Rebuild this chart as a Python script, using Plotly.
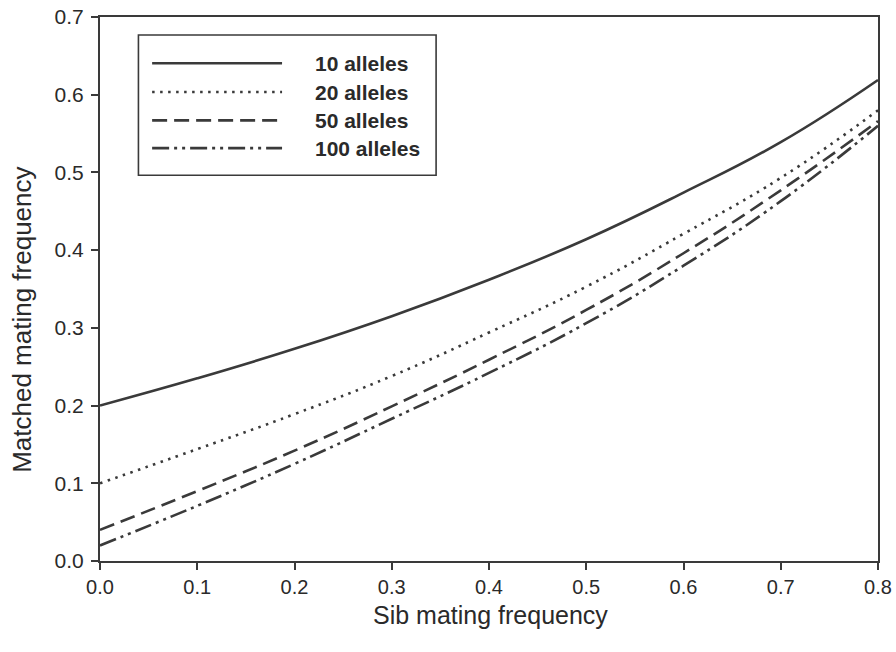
import plotly.graph_objects as go

sib_freq = [0.0, 0.1, 0.2, 0.3, 0.4, 0.5, 0.6, 0.7, 0.8]
alleles_10 = [0.200, 0.235, 0.273, 0.315, 0.362, 0.414, 0.474, 0.539, 0.619]
alleles_20 = [0.100, 0.144, 0.189, 0.238, 0.294, 0.353, 0.421, 0.493, 0.580]
alleles_50 = [0.040, 0.090, 0.142, 0.199, 0.259, 0.323, 0.396, 0.477, 0.566]
alleles_100 = [0.020, 0.071, 0.125, 0.183, 0.242, 0.306, 0.380, 0.463, 0.560]

series_names = ["10 alleles", "20 alleles", "50 alleles", "100 alleles"]
series_values = [alleles_10, alleles_20, alleles_50, alleles_100]
dashes = ["solid", "2.5px,5.5px", "15px,7px", "17px,5px,3px,5px,3px,5px"]

x_ticks = [0.0, 0.1, 0.2, 0.3, 0.4, 0.5, 0.6, 0.7, 0.8]
y_ticks = [0.0, 0.1, 0.2, 0.3, 0.4, 0.5, 0.6, 0.7]

line_color = "#3a3a3a"
text_color = "#2a2a2a"
font_family = "Liberation Sans, Arial, Helvetica, sans-serif"

fig = go.Figure()
for name, vals, dash in zip(series_names, series_values, dashes):
    fig.add_trace(go.Scatter(
        x=sib_freq, y=vals, mode="lines", name=name,
        line=dict(color=line_color, width=2.6, dash=dash, shape="spline", smoothing=1.3),
        showlegend=False,
    ))

# Manual legend (box, sample lines, labels) in paper coordinates
lx0, lx1, ly0, ly1 = 0.0494, 0.432, 0.709, 0.967
fig.add_shape(type="rect", xref="paper", yref="paper", x0=lx0, x1=lx1, y0=ly0, y1=ly1,
              line=dict(color=line_color, width=1.6), fillcolor="white")
row_y = [0.915, 0.862, 0.810, 0.759]
for name, dash, ry in zip(series_names, dashes, row_y):
    fig.add_shape(type="line", xref="paper", yref="paper", x0=0.067, x1=0.234, y0=ry, y1=ry,
                  line=dict(color=line_color, width=2.6, dash=dash))
    fig.add_annotation(xref="paper", yref="paper", x=0.274, y=ry, text=f"<b>{name}</b>",
                       showarrow=False, xanchor="left", yanchor="middle",
                       font=dict(family=font_family, size=21, color=text_color))

# Axis titles
fig.add_annotation(xref="paper", yref="paper", x=0.5014, y=-0.099, text="Sib mating frequency",
                   showarrow=False, xanchor="center", yanchor="middle",
                   font=dict(family=font_family, size=25, color=text_color))
fig.add_annotation(xref="paper", yref="paper", x=-0.0995, y=0.4425, text="Matched mating frequency",
                   showarrow=False, xanchor="center", yanchor="middle", textangle=-90,
                   font=dict(family=font_family, size=26, color=text_color))

fig.update_layout(
    width=896, height=652,
    margin=dict(l=100, r=18, t=17, b=91),
    paper_bgcolor="white", plot_bgcolor="white",
    font=dict(family=font_family, size=21, color=text_color),
    showlegend=False,
)
fig.update_xaxes(
    range=[0, 0.8], tickvals=x_ticks, tickformat=".1f",
    ticks="outside", ticklen=7, tickwidth=1.6, tickcolor=line_color,
    showline=True, linecolor=line_color, linewidth=2, mirror=True,
    showgrid=False, zeroline=False, automargin=False,
    tickfont=dict(size=20),
)
fig.update_yaxes(
    range=[0, 0.7], tickvals=y_ticks, tickformat=".1f",
    ticks="outside", ticklen=7, tickwidth=1.6, tickcolor=line_color,
    showline=True, linecolor=line_color, linewidth=2, mirror=True,
    showgrid=False, zeroline=False, automargin=False,
    tickfont=dict(size=21), ticklabelstandoff=3,
)

fig.write_html("out.html")
